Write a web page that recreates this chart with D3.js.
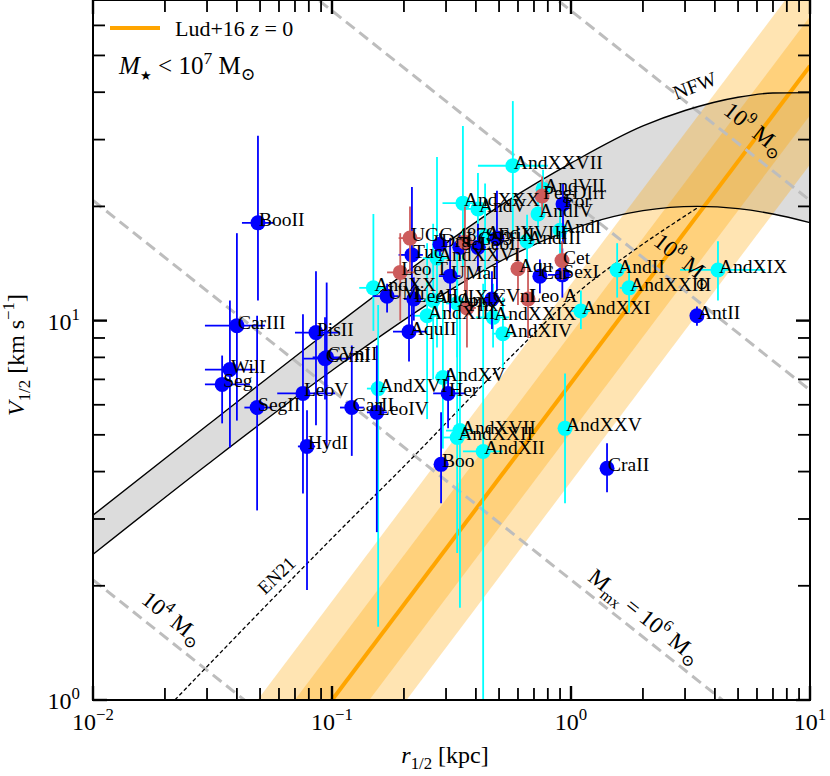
<!DOCTYPE html>
<html>
<head>
<meta charset="utf-8">
<script src="https://cdn.jsdelivr.net/npm/d3@7"></script>
<style>
  body { margin: 0; background: #fff; }
  svg text { font-family: "Liberation Serif", "DejaVu Serif", serif; fill: #000; }
</style>
</head>
<body>
<svg id="chart" width="830" height="776"></svg>
<script>
// [name, r1/2 (kpc), V1/2 (km/s), rLo, rHi, vLo, vHi]
const mwDwarfs = [
  ["BooII", 0.049, 18.1, 0.042, 0.057, 11.3, 30.7],
  ["CarIII", 0.040, 9.70, 0.0294, 0.0525, 5.45, 17.0],
  ["WilI", 0.0374, 7.43, 0.0294, 0.0477, 4.63, 11.3],
  ["Seg", 0.0347, 6.79, 0.0294, 0.0454, 5.36, 8.09],
  ["SegII", 0.0486, 5.90, 0.043, 0.056, 3.16, 10.3],
  ["PisII", 0.0857, 9.30, 0.070, 0.108, 5.3, 13.5],
  ["ComI", 0.0935, 7.94, 0.076, 0.121, 6.2, 10.2],
  ["CVnII", 0.095, 8.0, 0.083, 0.108, 4.6, 12.6],
  ["LeoV", 0.0756, 6.43, 0.059, 0.103, 3.5, 10.4],
  ["HydI", 0.0786, 4.66, 0.072, 0.085, 1.95, 5.8],
  ["CarII", 0.121, 5.90, 0.108, 0.136, 4.4, 8.6],
  ["LeoIV", 0.154, 5.73, 0.14, 0.17, 2.77, 8.6],
  ["AquII", 0.21, 9.35, 0.18, 0.25, 7.8, 11.5],
  ["UMi", 0.170, 11.6, 0.148, 0.19, 10.5, 12.5],
  ["Tuc", 0.216, 14.9, 0.19, 0.24, 9.5, 22.5],
  ["Dra", 0.283, 15.9, 0.27, 0.30, 14.8, 17.0],
  ["Scl", 0.343, 15.6, 0.32, 0.37, 14.5, 16.8],
  ["LeoI", 0.408, 15.6, 0.38, 0.44, 13.5, 18.0],
  ["EriII", 0.49, 16.5, 0.46, 0.52, 12.0, 22.0],
  ["UMaI", 0.312, 13.1, 0.28, 0.345, 10.5, 16.5],
  ["LeoII", 0.22, 11.4, 0.20, 0.24, 10.0, 13.0],
  ["CVnI", 0.467, 11.4, 0.44, 0.50, 9.5, 13.5],
  ["Car", 0.741, 13.1, 0.70, 0.79, 11.8, 14.5],
  ["SexI", 0.92, 13.2, 0.80, 1.0, 11.5, 15.5],
  ["For", 0.926, 20.3, 0.87, 0.99, 16.0, 23.0],
  ["Her", 0.306, 6.43, 0.265, 0.36, 5.2, 7.4],
  ["Boo", 0.286, 4.18, 0.27, 0.30, 3.30, 5.73],
  ["CraII", 1.415, 4.08, 1.34, 1.50, 3.53, 4.75],
  ["AntII", 3.365, 10.3, 3.2, 3.55, 9.7, 10.9]
];

const m31Dwarfs = [
  ["AndXXVII", 0.571, 25.6, 0.408, 0.80, 16.2, 37.9],
  ["AndXXX", 0.353, 20.4, 0.29, 0.43, 13.9, 32.6],
  ["AndV", 0.408, 19.7, 0.36, 0.46, 15.5, 24.5],
  ["AndVII", 0.764, 22.2, 0.72, 0.81, 19.0, 25.0],
  ["AndIV", 0.728, 19.1, 0.68, 0.78, 16.0, 23.0],
  ["AndI", 0.90, 17.3, 0.85, 0.95, 15.0, 20.0],
  ["AndIII", 0.655, 16.2, 0.62, 0.70, 13.8, 19.0],
  ["AndXVIII", 0.437, 16.7, 0.40, 0.48, 12.0, 23.0],
  ["AndXXVI", 0.275, 14.6, 0.24, 0.31, 8.5, 27.0],
  ["AndXX", 0.149, 12.2, 0.13, 0.17, 9.4, 19.1],
  ["AndIX", 0.265, 11.3, 0.24, 0.29, 7.0, 18.0],
  ["AndX", 0.334, 11.1, 0.30, 0.37, 8.0, 15.0],
  ["AndXIII", 0.25, 10.3, 0.22, 0.28, 5.5, 16.0],
  ["AndXXIX", 0.472, 10.2, 0.40, 0.55, 8.5, 12.5],
  ["AndXIV", 0.519, 9.24, 0.47, 0.57, 7.5, 11.5],
  ["AndXVI", 0.156, 6.62, 0.14, 0.17, 1.56, 11.0],
  ["AndXV", 0.291, 7.08, 0.27, 0.31, 4.6, 11.5],
  ["AndXVII", 0.343, 5.13, 0.30, 0.39, 1.75, 11.0],
  ["AndXXII", 0.334, 4.92, 0.29, 0.38, 2.44, 13.0],
  ["AndXII", 0.429, 4.52, 0.353, 0.519, 0.5, 12.5],
  ["AndXXV", 0.944, 5.20, 0.90, 0.99, 3.30, 7.25],
  ["AndXXI", 1.10, 10.6, 1.0, 1.2, 9.5, 12.0],
  ["AndXXIII", 1.75, 12.2, 1.6, 1.9, 10.5, 14.0],
  ["AndII", 1.56, 13.6, 1.45, 1.7, 11.5, 16.0],
  ["AndXIX", 4.12, 13.6, 2.86, 6.49, 11.3, 16.2]
];

const fieldDwarfs = [
  ["UGC 4879", 0.212, 16.5, 0.19, 0.235, 13.5, 20.0],
  ["Leo T", 0.193, 13.4, 0.17, 0.22, 10.0, 17.0],
  ["PegDIrr", 0.757, 21.3, 0.72, 0.80, 19.0, 24.0],
  ["Cet", 0.917, 14.4, 0.86, 0.98, 12.8, 16.2],
  ["Aqu", 0.60, 13.7, 0.56, 0.64, 11.0, 16.5],
  ["Leo A", 0.661, 11.4, 0.62, 0.70, 9.0, 14.0],
  ["Phx", 0.367, 10.8, 0.34, 0.40, 8.5, 13.0],
  ["LGS3", 0.36, 16.1, 0.33, 0.39, 12.0, 20.0]
];

// NFW envelope
const nfwUpperR = [0.01, 0.03, 0.1, 0.3, 0.5, 1, 2, 3, 5, 7, 10];
const nfwUpperV = [3.07, 5.29, 9.55, 16.0, 20.0, 26.0, 32.6, 35.8, 38.8, 39.8, 39.9];
const nfwLowerR = [0.01, 0.03, 0.1, 0.3, 0.5, 1, 1.5, 2, 3.37, 5, 7, 10];
const nfwLowerV = [2.42, 4.17, 7.39, 11.85, 14.28, 17.38, 18.79, 19.49, 20.0, 19.73, 19.10, 18.12];

// EN21 curve
const en21R = [0.022, 0.119, 0.1925, 0.54, 1.09, 1.94, 3.37];
const en21V = [1.0, 2.98, 4.03, 7.85, 12.0, 15.7, 19.8];

// Lud+16 z=0 relation and its scatter bands
const lud16R = [0.01, 10];
const lud16V = [0.146, 46.9];
const lud16InnerLo = [0.108, 34.8];
const lud16InnerHi = [0.197, 63.3];
const lud16OuterLo = [0.080, 25.8];
const lud16OuterHi = [0.266, 85.4];

// constant-mass lines 1e4, 1e6, 1e8, 1e9 Msun
const isoMassR = [0.01, 10];
const isoMassV = [[2.074, 0.0656], [20.74, 0.656], [207.4, 6.557], [655.7, 20.74]];

const xTickValues = [0.01, 0.1, 1, 10];
const xTickExps = ["\u22122", "\u22121", "0", "1"];
const yTickValues = [1, 10];
const yTickExps = ["0", "1"];

const svg = d3.select("#chart");
const padL = 93, padR = 810, padT = 0, padB = 700;

const x = d3.scaleLog().domain([0.01, 10]).range([padL, padR]);
const y = d3.scaleLog().domain([1, 70]).range([padB, padT]);

svg.append("defs").append("clipPath").attr("id", "plotclip")
  .append("rect").attr("x", padL).attr("y", padT)
  .attr("width", padR - padL).attr("height", padB - padT);

const plot = svg.append("g").attr("clip-path", "url(#plotclip)");

const line = d3.line().x(d => x(d[0])).y(d => y(d[1])).curve(d3.curveMonotoneX);
const straight = d3.line().x(d => x(d[0])).y(d => y(d[1]));

const upperPts = nfwUpperR.map((r, i) => [r, nfwUpperV[i]]);
const lowerPts = nfwLowerR.map((r, i) => [r, nfwLowerV[i]]);

// gray NFW band
plot.append("path")
  .attr("d", line(upperPts) + line(lowerPts.slice().reverse()).replace(/^M/, "L") + "Z")
  .attr("fill", "#dcdcdc")
  .attr("stroke", "none");

// Lud+16 bands
function band(lo, hi) {
  return straight([[lud16R[0], hi[0]], [lud16R[1], hi[1]], [lud16R[1], lo[1]], [lud16R[0], lo[0]]]) + "Z";
}
plot.append("path").attr("d", band(lud16OuterLo, lud16OuterHi))
  .attr("fill", "orange").attr("fill-opacity", 0.3);
plot.append("path").attr("d", band(lud16InnerLo, lud16InnerHi))
  .attr("fill", "orange").attr("fill-opacity", 0.3);
plot.append("path")
  .attr("d", straight(lud16R.map((r, i) => [r, lud16V[i]])))
  .attr("stroke", "orange").attr("stroke-width", 4).attr("fill", "none");

// constant-mass dashed lines
isoMassV.forEach(v => {
  plot.append("path")
    .attr("d", straight(isoMassR.map((r, i) => [r, v[i]])))
    .attr("stroke", "#bdbdbd").attr("stroke-width", 3)
    .attr("stroke-dasharray", "11,6").attr("fill", "none");
});

// NFW edges
[upperPts, lowerPts].forEach(pts => {
  plot.append("path").attr("d", line(pts))
    .attr("stroke", "black").attr("stroke-width", 1.4).attr("fill", "none");
});

// EN21
plot.append("path")
  .attr("d", line(en21R.map((r, i) => [r, en21V[i]])))
  .attr("stroke", "black").attr("stroke-width", 1.3)
  .attr("stroke-dasharray", "4,2.5").attr("fill", "none");

// data points
const groups = [
  { data: m31Dwarfs, color: "#00ffff" },
  { data: mwDwarfs, color: "#0000ff" },
  { data: fieldDwarfs, color: "#cd5c5c" }
];

groups.forEach(g => {
  const gg = plot.append("g");
  g.data.forEach(d => {
    gg.append("line")
      .attr("x1", x(d[3])).attr("x2", x(d[4]))
      .attr("y1", y(d[2])).attr("y2", y(d[2]))
      .attr("stroke", g.color).attr("stroke-width", 1.8);
    gg.append("line")
      .attr("x1", x(d[1])).attr("x2", x(d[1]))
      .attr("y1", y(d[5])).attr("y2", y(d[6]))
      .attr("stroke", g.color).attr("stroke-width", 1.8);
    gg.append("circle")
      .attr("cx", x(d[1])).attr("cy", y(d[2])).attr("r", 7.5)
      .attr("fill", g.color);
  });
});

groups.forEach(g => {
  plot.selectAll(null).data(g.data).join("text")
    .attr("x", d => x(d[1]) + 1)
    .attr("y", d => y(d[2]) + 3)
    .attr("font-size", 19.5)
    .text(d => d[0]);
});

// rich text helper: parts = [text, kind]
function rich(sel, parts, size) {
  let shift = 0;
  parts.forEach(([t, k]) => {
    const ts = sel.append("tspan").text(t);
    let target = 0, fs = size;
    if (k === "sup") { target = -0.42 * size; fs = size * 0.7; }
    if (k === "sub") { target = 0.25 * size; fs = size * 0.7; }
    if (k === "star") { target = 0.22 * size; fs = size * 0.5; }
    ts.attr("dy", target - shift).attr("font-size", fs);
    if (k === "i") ts.attr("font-style", "italic");
    shift = target;
  });
  return sel;
}

// annotations along lines
function note(px, py, angle, parts, size) {
  const t = plot.append("text")
    .attr("transform", `translate(${px},${py}) rotate(${angle})`)
    .attr("text-anchor", "middle").attr("font-size", size);
  rich(t, parts, size);
}
note(168, 624, 38.5, [["10", "n"], ["4", "sup"], [" M", "n"], ["\u2299", "sub"]], 23);
note(640, 622, 38.5, [["M", "n"], ["mx", "sub"], [" = 10", "n"], ["6", "sup"], [" M", "n"], ["\u2299", "sub"]], 23);
note(680, 266, 38.5, [["10", "n"], ["8", "sup"], [" M", "n"], ["\u2299", "sub"]], 23);
note(750, 135, 38.5, [["10", "n"], ["9", "sup"], [" M", "n"], ["\u2299", "sub"]], 23);
note(281, 580, -44, [["EN21", "n"]], 19);
note(697, 92, -21, [["NFW", "n"]], 20);

// frame
svg.append("rect").attr("x", padL).attr("y", padT)
  .attr("width", padR - padL).attr("height", padB - padT)
  .attr("fill", "none").attr("stroke", "black").attr("stroke-width", 2);

// ticks (inward, all four sides)
const xMinor = [], yMinor = [];
[0.01, 0.1, 1].forEach(dec => { for (let k = 2; k <= 9; k++) xMinor.push(dec * k); });
[1, 10].forEach(dec => { for (let k = 2; k <= 9; k++) if (dec * k < 70) yMinor.push(dec * k); });

const ticks = svg.append("g").attr("stroke", "black");
function xTick(v, len, w) {
  ticks.append("line").attr("x1", x(v)).attr("x2", x(v)).attr("y1", padB).attr("y2", padB - len).attr("stroke-width", w);
  ticks.append("line").attr("x1", x(v)).attr("x2", x(v)).attr("y1", padT).attr("y2", padT + len).attr("stroke-width", w);
}
function yTick(v, len, w) {
  ticks.append("line").attr("x1", padL).attr("x2", padL + len).attr("y1", y(v)).attr("y2", y(v)).attr("stroke-width", w);
  ticks.append("line").attr("x1", padR).attr("x2", padR - len).attr("y1", y(v)).attr("y2", y(v)).attr("stroke-width", w);
}
xMinor.forEach(v => xTick(v, 12, 1.8));
yMinor.forEach(v => yTick(v, 12, 1.8));
xTickValues.forEach(v => xTick(v, 14, 2.4));
yTickValues.forEach(v => yTick(v, 14, 2.4));

// tick labels
xTickValues.forEach((v, i) => {
  const t = svg.append("text").attr("x", x(v)).attr("y", 730)
    .attr("text-anchor", "middle").attr("font-size", 24);
  rich(t, [["10", "n"], [xTickExps[i], "sup"]], 24);
});
yTickValues.forEach((v, i) => {
  const t = svg.append("text").attr("x", 80).attr("y", y(v) + 9)
    .attr("text-anchor", "end").attr("font-size", 24);
  rich(t, [["10", "n"], [yTickExps[i], "sup"]], 24);
});

// axis titles
rich(svg.append("text").attr("x", 445).attr("y", 763).attr("text-anchor", "middle").attr("font-size", 24),
  [["r", "i"], ["1/2", "sub"], [" [kpc]", "n"]], 24);
rich(svg.append("text").attr("transform", "translate(24,355) rotate(-90)").attr("text-anchor", "middle").attr("font-size", 24),
  [["V", "i"], ["1/2", "sub"], [" [km s", "n"], ["\u22121", "sup"], ["]", "n"]], 24);

// legend
svg.append("line").attr("x1", 110).attr("x2", 160).attr("y1", 28).attr("y2", 28)
  .attr("stroke", "orange").attr("stroke-width", 4);
rich(svg.append("text").attr("x", 175).attr("y", 36).attr("font-size", 22),
  [["Lud+16 ", "n"], ["z", "i"], [" = 0", "n"]], 22);
rich(svg.append("text").attr("x", 119).attr("y", 74).attr("font-size", 25),
  [["M", "i"], ["\u2605", "star"], [" < 10", "n"], ["7", "sup"], [" M", "n"], ["\u2299", "sub"]], 25);
</script>
</body>
</html>
